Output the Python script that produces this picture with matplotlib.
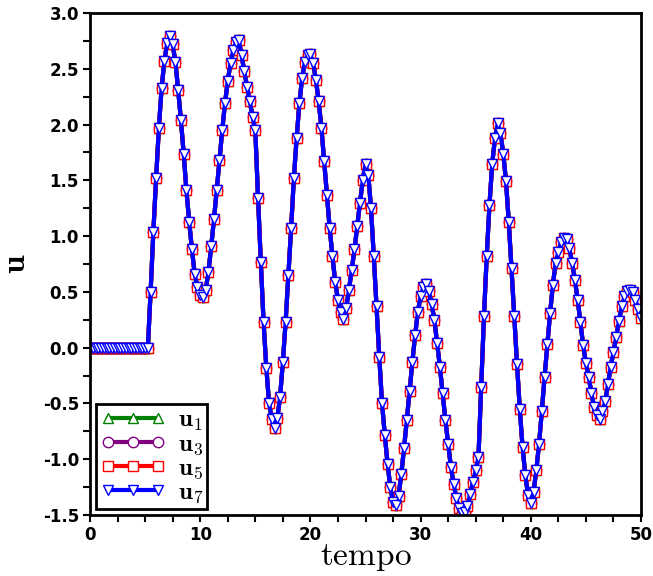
import numpy as np
import matplotlib
matplotlib.use("Agg")
import matplotlib.pyplot as plt
from matplotlib.ticker import MultipleLocator, FormatStrFormatter

u7 = [0.0] * 22 + [
    0.50, 1.04, 1.52, 1.97, 2.33, 2.57, 2.73, 2.79, 2.72, 2.56,
    2.31, 2.04, 1.74, 1.41, 1.13, 0.88, 0.66, 0.54, 0.47, 0.45,
    0.52, 0.68, 0.91, 1.15, 1.41, 1.68, 1.95, 2.19, 2.39, 2.55,
    2.67, 2.74, 2.76, 2.62, 2.48, 2.34, 2.21, 2.07, 1.95, 1.34,
    0.77, 0.23, -0.18, -0.50, -0.64, -0.72, -0.63, -0.44, -0.13, 0.23,
    0.65, 1.07, 1.52, 1.88, 2.19, 2.42, 2.56, 2.62, 2.63, 2.55,
    2.40, 2.21, 1.97, 1.67, 1.37, 1.07, 0.82, 0.59, 0.43, 0.32,
    0.26, 0.36, 0.52, 0.70, 0.88, 1.09, 1.30, 1.50, 1.65, 1.55,
    1.25, 0.82, 0.37, -0.08, -0.50, -0.78, -1.04, -1.25, -1.38, -1.41,
    -1.33, -1.13, -0.90, -0.65, -0.39, -0.13, 0.11, 0.32, 0.46, 0.54,
    0.57, 0.51, 0.39, 0.25, 0.04, -0.17, -0.41, -0.65, -0.86, -1.07,
    -1.22, -1.35, -1.44, -1.48, -1.47, -1.42, -1.31, -1.20, -1.10, -0.98,
    -0.35, 0.28, 0.82, 1.28, 1.65, 1.88, 2.01, 1.92, 1.74, 1.49,
    1.13, 0.71, 0.28, -0.15, -0.55, -0.89, -1.14, -1.32, -1.39, -1.29,
    -1.10, -0.86, -0.57, -0.26, 0.03, 0.31, 0.56, 0.76, 0.86, 0.95,
    0.98, 0.97, 0.89, 0.76, 0.61, 0.43, 0.23, 0.02, -0.14, -0.26,
    -0.41, -0.53, -0.60, -0.64, -0.57, -0.48, -0.33, -0.17, -0.04, 0.10,
    0.24, 0.37, 0.46, 0.51, 0.52, 0.50, 0.43, 0.35, 0.27,
]
u1 = list(u7)
u3 = list(u7)
u5 = list(u7)
dt = 0.25
t = np.arange(len(u7)) * dt

series_labels = [r"$\mathbf{u_1}$", r"$\mathbf{u_3}$", r"$\mathbf{u_5}$", r"$\mathbf{u_7}$"]

fig = plt.figure(figsize=(6.53, 5.76), dpi=100)
ax = fig.add_axes([90 / 653, 1 - 515 / 576, (641 - 90) / 653, (515 - 13) / 576])

styles = [
    (u1, "^", "#008000"),
    (u3, "o", "#800080"),
    (u5, "s", "#ff0000"),
    (u7, "v", "#0000ff"),
]
for (vals, mk, col), lab in zip(styles, series_labels):
    ax.plot(t, vals, color=col, lw=3.0, marker=mk, ms=7.5, mfc="white",
            mec=col, mew=1.0, label=lab)

ax.set_xlim(0, 50)
ax.set_ylim(-1.5, 3.0)
ax.xaxis.set_major_locator(MultipleLocator(10))
ax.xaxis.set_minor_locator(MultipleLocator(2.5))
ax.yaxis.set_major_locator(MultipleLocator(0.5))
ax.yaxis.set_minor_locator(MultipleLocator(0.25))
ax.yaxis.set_major_formatter(FormatStrFormatter("%.1f"))
ax.tick_params(which="both", direction="out", length=5, width=1.5,
               top=False, right=False, pad=3)
for lbl in ax.get_xticklabels() + ax.get_yticklabels():
    lbl.set_fontweight("bold")
    lbl.set_fontsize(12)
for sp in ax.spines.values():
    sp.set_linewidth(2)

ax.set_xlabel(r"$\mathrm{tempo}$", math_fontfamily="cm", fontsize=24)
ax.xaxis.set_label_coords(0.5, -0.05)
ax.set_ylabel(r"$\mathbf{u}$", math_fontfamily="cm", fontsize=24)
ax.yaxis.set_label_coords(-0.105, 0.5)

leg = ax.legend(loc="lower left", numpoints=3, handlelength=2.6,
                fancybox=False, framealpha=1, edgecolor="black",
                prop={"size": 18}, borderaxespad=0.25, labelspacing=-0.05,
                handletextpad=0.5, borderpad=0.15)
leg.get_frame().set_linewidth(2)
for txt in leg.get_texts():
    txt.set_math_fontfamily("cm")

fig.savefig("out.png", dpi=100)
